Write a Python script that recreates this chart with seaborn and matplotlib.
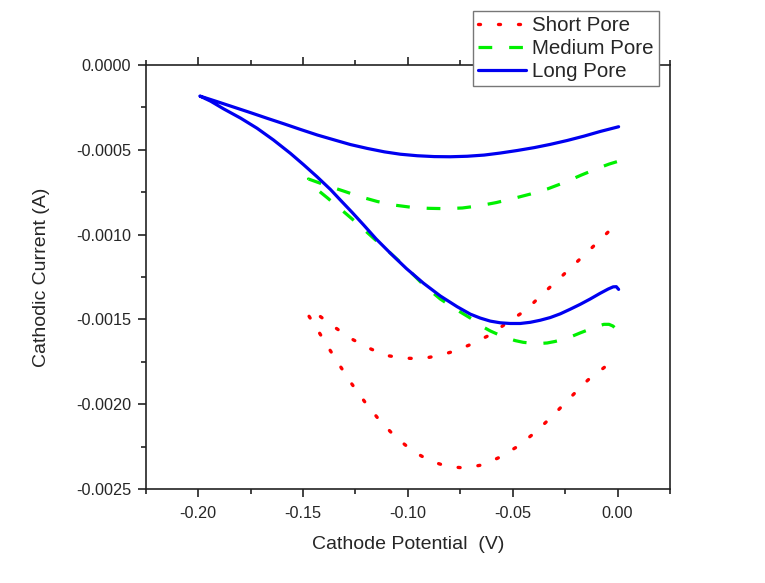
import numpy as np
import pandas as pd
import matplotlib
matplotlib.use("Agg")
import matplotlib.pyplot as plt
from matplotlib.ticker import MultipleLocator, FormatStrFormatter
import seaborn as sns

# ---------------- data ----------------
# Long Pore (blue): upper (return) and lower (forward) branches, left -> right
long_x_upper = [-0.1992, -0.1912, -0.1831, -0.1750, -0.1669, -0.1588, -0.1512, -0.1431,
                -0.1350, -0.1274, -0.1193, -0.1112, -0.1036, -0.0955, -0.0874, -0.0798,
                -0.0717, -0.0636, -0.0559, -0.0478, -0.0397, -0.0321, -0.0240, -0.0159,
                -0.0083, 0.0005]
long_y_upper = [-0.000183, -0.000215, -0.000248, -0.000281, -0.000315, -0.000348, -0.000380,
                -0.000413, -0.000442, -0.000469, -0.000492, -0.000512, -0.000526, -0.000535,
                -0.000540, -0.000541, -0.000538, -0.000531, -0.000519, -0.000504, -0.000487,
                -0.000468, -0.000445, -0.000419, -0.000392, -0.000364]
long_x_lower = [-0.1992, -0.1941, -0.1878, -0.1798, -0.1719, -0.1641, -0.1560, -0.1498,
                -0.1433, -0.1369, -0.1322, -0.1265, -0.1211, -0.1151, -0.1083, -0.1007,
                -0.0925, -0.0845, -0.0765, -0.0702, -0.0655, -0.0607, -0.0559, -0.0512,
                -0.0464, -0.0416, -0.0369, -0.0321, -0.0273, -0.0226, -0.0178, -0.0131,
                -0.0083, -0.0045, -0.0021, -0.0006, 0.0005]
long_y_lower = [-0.000183, -0.000213, -0.000259, -0.000313, -0.000373, -0.000442, -0.000521,
                -0.000587, -0.000659, -0.000734, -0.000796, -0.000870, -0.000943, -0.001026,
                -0.001110, -0.001200, -0.001287, -0.001362, -0.001425, -0.001469, -0.001492,
                -0.001510, -0.001520, -0.001524, -0.001524, -0.001517, -0.001505, -0.001489,
                -0.001467, -0.001440, -0.001411, -0.001380, -0.001346, -0.001321, -0.001308,
                -0.001307, -0.001323]

# Medium Pore (green)
med_x_upper = [-0.1474, -0.1393, -0.1307, -0.1226, -0.1145, -0.1064, -0.0983, -0.0902,
               -0.0821, -0.0740, -0.0659, -0.0578, -0.0497, -0.0416, -0.0335, -0.0254,
               -0.0173, -0.0092, -0.0040, -0.0003]
med_y_upper = [-0.000672, -0.000708, -0.000743, -0.000777, -0.000805, -0.000826, -0.000839,
               -0.000845, -0.000847, -0.000843, -0.000830, -0.000811, -0.000787, -0.000761,
               -0.000731, -0.000693, -0.000649, -0.000608, -0.000584, -0.000570]
med_x_lower = [-0.1474, -0.1449, -0.1385, -0.1306, -0.1242, -0.1163, -0.1099, -0.1004,
               -0.0925, -0.0845, -0.0765, -0.0686, -0.0645, -0.0607, -0.0569, -0.0526,
               -0.0488, -0.0450, -0.0412, -0.0374, -0.0336, -0.0298, -0.0260, -0.0222,
               -0.0179, -0.0131, -0.0093, -0.0065, -0.0041, -0.0022, -0.0010, 0.0000]
med_y_lower = [-0.000672, -0.000718, -0.000782, -0.000865, -0.000933, -0.001022, -0.001091,
               -0.001199, -0.001297, -0.001380, -0.001445, -0.001504, -0.001542, -0.001568,
               -0.001589, -0.001610, -0.001625, -0.001635, -0.001640, -0.001642, -0.001639,
               -0.001630, -0.001618, -0.001602, -0.001580, -0.001557, -0.001539, -0.001529,
               -0.001529, -0.001539, -0.001553, -0.001573]

# Short Pore (red)
short_x_upper = [-0.1480, -0.1441, -0.1357, -0.1274, -0.1190, -0.1106, -0.1020, -0.0937,
                 -0.0855, -0.0772, -0.0688, -0.0610, -0.0520, -0.0437, -0.0354, -0.0273,
                 -0.0198, -0.0117, -0.0046]
short_y_upper = [-0.001464, -0.001461, -0.001539, -0.001611, -0.001667, -0.001712, -0.001728,
                 -0.001732, -0.001714, -0.001685, -0.001641, -0.001592, -0.001514, -0.001445,
                 -0.001346, -0.001254, -0.001166, -0.001071, -0.000986]
short_x_lower = [-0.1480, -0.1428, -0.1377, -0.1323, -0.1267, -0.1206, -0.1139, -0.1060,
                 -0.0977, -0.0893, -0.0808, -0.0726, -0.0642, -0.0559, -0.0473, -0.0389,
                 -0.0306, -0.0224, -0.0141, -0.0057, 0.0000]
short_y_lower = [-0.001464, -0.001567, -0.001670, -0.001775, -0.001881, -0.001985, -0.002089,
                 -0.002192, -0.002276, -0.002335, -0.002368, -0.002376, -0.002357, -0.002311,
                 -0.002246, -0.002162, -0.002064, -0.001959, -0.001857, -0.001777, -0.001832]

series_names = ["Short Pore", "Medium Pore", "Long Pore"]
x_ticks = [-0.20, -0.15, -0.10, -0.05, 0.00]
y_ticks = [0.0000, -0.0005, -0.0010, -0.0015, -0.0020, -0.0025]


def loop(xu, yu, xl, yl):
    """Path: upper branch right->left, then lower branch left->right."""
    x = list(reversed(xu)) + list(xl[1:])
    y = list(reversed(yu)) + list(yl[1:])
    return x, y


# ---------------- style ----------------
sns.set_style("ticks")
plt.rcParams["font.family"] = ["Liberation Sans", "DejaVu Sans"]

fig = plt.figure(figsize=(7.65, 5.83), dpi=100)
ax = fig.add_axes([0.1905, 0.1612, 0.8758 - 0.1905, 0.8885 - 0.1612])

styles = {
    "Short Pore": dict(color="#ff0000", linestyle=(0, (0.6, 5.4)), dash_capstyle="round",
                       linewidth=2.4),
    "Medium Pore": dict(color="#00f000", linestyle=(0, (4.3, 5.3)), dash_capstyle="butt",
                        linewidth=2.3),
    "Long Pore": dict(color="#0000f0", linestyle="-", linewidth=2.3),
}
data = {
    "Short Pore": loop(short_x_upper, short_y_upper, short_x_lower, short_y_lower),
    "Medium Pore": loop(med_x_upper, med_y_upper, med_x_lower, med_y_lower),
    "Long Pore": loop(long_x_upper, long_y_upper, long_x_lower, long_y_lower),
}

for name in series_names:
    x, y = data[name]
    df = pd.DataFrame({"potential": x, "current": y})
    sns.lineplot(data=df, x="potential", y="current", sort=False, estimator=None,
                 ax=ax, label=name, **styles[name])

ax.set_xlim(-0.225, 0.025)
ax.set_ylim(-0.0025, 0.0)
ax.set_xticks(x_ticks)
ax.set_yticks(y_ticks)
ax.xaxis.set_minor_locator(MultipleLocator(0.025))
ax.yaxis.set_minor_locator(MultipleLocator(0.00025))
ax.xaxis.set_major_formatter(FormatStrFormatter("%.2f"))
ax.yaxis.set_major_formatter(FormatStrFormatter("%.4f"))

for s in ax.spines.values():
    s.set_visible(True)
    s.set_linewidth(1.2)
    s.set_color("#222222")

ax.tick_params(axis="both", which="major", direction="out", length=6, width=1.2,
               color="#222222", labelsize=11.7, pad=4.5, top=True, right=False)
ax.tick_params(axis="both", which="minor", direction="out", length=3.5, width=1.2,
               color="#222222", top=True, right=False)
ax.tick_params(axis="x", which="major", pad=6)

ax.set_xlabel("Cathode Potential  (V)", fontsize=14, labelpad=11)
ax.set_ylabel("Cathodic Current (A)", fontsize=14, labelpad=19)

leg = ax.legend(loc="upper left", bbox_to_anchor=(472.7 / 765, 1 - 10.7 / 583),
                bbox_transform=fig.transFigure, fontsize=14.8, frameon=True,
                fancybox=False, framealpha=1, edgecolor="#777777",
                handlelength=2.35, handletextpad=0.3, labelspacing=0.2,
                borderpad=0.25, borderaxespad=0)
leg.get_frame().set_linewidth(1.0)

fig.savefig("out.png", dpi=100, facecolor="white")
